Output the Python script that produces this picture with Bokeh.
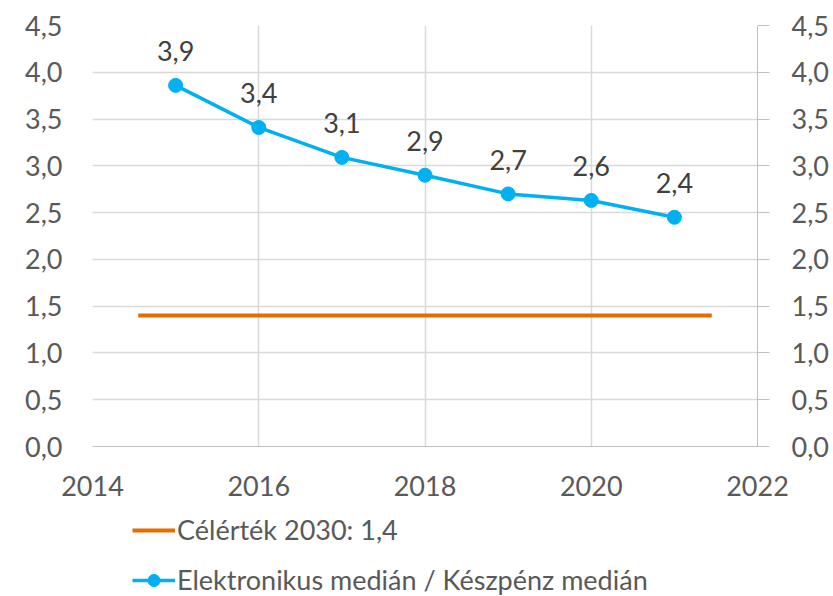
from bokeh.plotting import figure
from bokeh.layouts import column
from bokeh.models import (LinearAxis, Range1d, CustomJSTickFormatter, FixedTicker,
                          Legend, LegendItem, ColumnDataSource, LabelSet)
from bokeh.core.properties import value
from bokeh.embed import file_html
from bokeh.resources import INLINE

years = [2015, 2016, 2017, 2018, 2019, 2020, 2021]
ratio = [3.86, 3.41, 3.09, 2.90, 2.70, 2.63, 2.45]
ratio_labels = ["3,9", "3,4", "3,1", "2,9", "2,7", "2,6", "2,4"]
target_x = [2014.55, 2021.45]
target_y = [1.4, 1.4]
x_ticks = [2014, 2016, 2018, 2020, 2022]
y_ticks = [0.0, 0.5, 1.0, 1.5, 2.0, 2.5, 3.0, 3.5, 4.0, 4.5]
legend_labels = ["Célérték 2030: 1,4", "Elektronikus medián / Készpénz medián"]

FONT = "Lato"
TXT = "#595959"
GRID = "#d9d9d9"
AX = "#bfbfbf"
BLUE = "#00B0F0"
ORANGE = "#E66C00"

p = figure(frame_width=665, frame_height=421,
           x_range=Range1d(2014, 2022), y_range=Range1d(0, 4.5),
           output_backend="svg", toolbar_location=None,
           min_border_left=92, min_border_right=76, min_border_top=25, min_border_bottom=58)
p.outline_line_color = None
p.background_fill_color = "white"

fmt_y = CustomJSTickFormatter(code="return tick.toFixed(1).replace('.', ',');")

p.xaxis.ticker = FixedTicker(ticks=x_ticks)
p.xaxis.major_tick_line_color = None
p.xaxis.minor_tick_line_color = None
p.xaxis.axis_line_color = AX
p.xaxis.major_label_text_font = FONT
p.xaxis.major_label_text_font_size = "27px"
p.xaxis.major_label_text_color = TXT
p.xaxis.major_label_standoff = 23

p.yaxis.ticker = FixedTicker(ticks=y_ticks)
p.yaxis.formatter = fmt_y
p.yaxis.major_tick_line_color = None
p.yaxis.minor_tick_line_color = None
p.yaxis.axis_line_color = None
p.yaxis.major_label_text_font = FONT
p.yaxis.major_label_text_font_size = "27px"
p.yaxis.major_label_text_color = TXT
p.yaxis.major_label_standoff = 24

ry = LinearAxis(ticker=FixedTicker(ticks=y_ticks), formatter=fmt_y)
ry.major_tick_in = 0
ry.major_tick_out = 12
ry.major_tick_line_color = AX
ry.minor_tick_line_color = None
ry.axis_line_color = AX
ry.major_label_text_font = FONT
ry.major_label_text_font_size = "27px"
ry.major_label_text_color = TXT
ry.major_label_standoff = 22
p.add_layout(ry, "right")

p.xgrid.ticker = FixedTicker(ticks=x_ticks)
p.ygrid.ticker = FixedTicker(ticks=y_ticks)
p.xgrid.grid_line_color = GRID
p.ygrid.grid_line_color = GRID
p.xgrid.grid_line_width = 1.5
p.ygrid.grid_line_width = 1.5

src = ColumnDataSource(dict(x=years, y=ratio, lab=ratio_labels))
tsrc = ColumnDataSource(dict(x=target_x, y=target_y))

r_target = p.line("x", "y", source=tsrc, line_color=ORANGE, line_width=4)
r_line = p.line("x", "y", source=src, line_color=BLUE, line_width=3.5)
r_pts = p.scatter("x", "y", source=src, size=14, fill_color=BLUE, line_color=BLUE)

labels = LabelSet(x="x", y="y", text="lab", source=src, y_offset=24,
                  text_align="center", text_baseline="bottom",
                  text_font=value(FONT), text_font_size="27px", text_color="#404040")
p.add_layout(labels)

# Legend strip below the chart: same series, ranges chosen so only the legend shows
q = figure(width=833, height=92, x_range=Range1d(0, 1), y_range=Range1d(0, 1),
           x_axis_type=None, y_axis_type=None,
           output_backend="svg", toolbar_location=None, min_border=0)
q.outline_line_color = None
q.grid.visible = False
lg_target = q.line("x", "y", source=tsrc, line_color=ORANGE, line_width=4)
lg_line = q.line("x", "y", source=src, line_color=BLUE, line_width=3.5)
lg_pts = q.scatter("x", "y", source=src, size=14, fill_color=BLUE, line_color=BLUE)

legend = Legend(items=[
    LegendItem(label=legend_labels[0], renderers=[lg_target]),
    LegendItem(label=legend_labels[1], renderers=[lg_line, lg_pts]),
], orientation="vertical", location=(40, 0))
legend.glyph_width = 43
legend.glyph_height = 30
legend.label_height = 30
legend.label_standoff = 2
legend.spacing = 17
legend.padding = 0
legend.margin = 0
legend.border_line_color = None
legend.background_fill_alpha = 0
legend.label_text_font = FONT
legend.label_text_font_size = "27px"
legend.label_text_color = TXT
q.add_layout(legend, "center")

layout = column(p, q, spacing=0)
open("out.html", "w").write(file_html(layout, INLINE))
